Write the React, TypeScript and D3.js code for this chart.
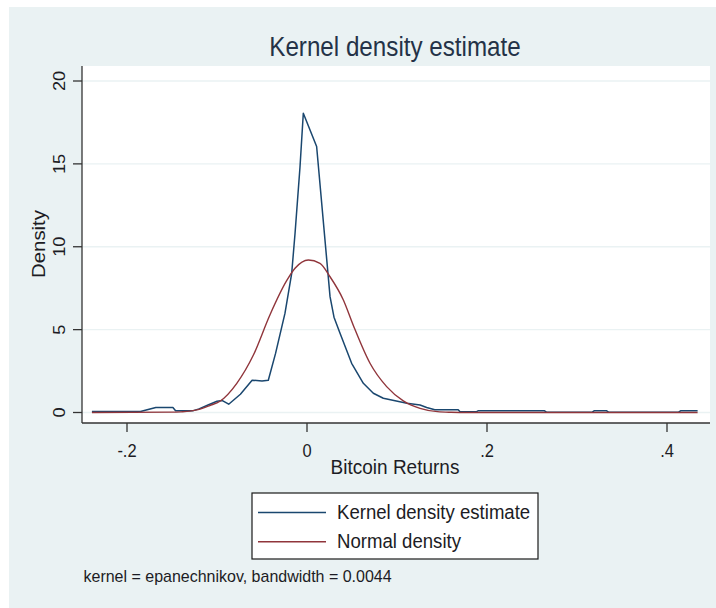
import React from "react";
import * as d3 from "d3";

// Kernel density estimate: [return, density]
const kdeReturns = [-0.239, -0.185, -0.168, -0.149, -0.146, -0.127, -0.12, -0.11, -0.1, -0.094, -0.087, -0.074, -0.061, -0.05, -0.043, -0.035, -0.0245, -0.017, -0.0133, -0.0078, -0.0041, 0.0107, 0.0256, 0.03, 0.0367, 0.0496, 0.0626, 0.0737, 0.0848, 0.111, 0.1256, 0.133, 0.142, 0.168, 0.17, 0.188, 0.19, 0.264, 0.266, 0.317, 0.319, 0.333, 0.335, 0.413, 0.415, 0.434];
const kdeDensity = [0.06, 0.06, 0.3, 0.3, 0.1, 0.1, 0.22, 0.45, 0.68, 0.72, 0.5, 1.1, 1.95, 1.9, 1.95, 3.55, 5.98, 8.4, 10.8, 14.8, 18.05, 16.05, 6.99, 5.75, 4.78, 2.97, 1.76, 1.16, 0.86, 0.56, 0.45, 0.3, 0.17, 0.17, 0.04, 0.04, 0.1, 0.1, 0.02, 0.02, 0.1, 0.1, 0.02, 0.02, 0.1, 0.1];

// Normal density
const normReturns = [-0.239, -0.15, -0.14, -0.13, -0.121, -0.108, -0.0967, -0.078, -0.0597, -0.0411, -0.0226, -0.0133, 0.0015, 0.0144, 0.0256, 0.0404, 0.0515, 0.07, 0.0885, 0.107, 0.1256, 0.145, 0.16, 0.18, 0.434];
const normDensity = [0, 0.02, 0.04, 0.08, 0.17, 0.42, 0.68, 1.76, 3.45, 5.9, 7.95, 8.7, 9.2, 9.0, 8.19, 6.79, 5.25, 2.97, 1.56, 0.7, 0.25, 0.05, 0.015, 0, 0];

const xTicks = [-0.2, 0, 0.2, 0.4];
const xTickLabels = ["-.2", "0", ".2", ".4"];
const yTicks = [0, 5, 10, 15, 20];

const title = "Kernel density estimate";
const xTitle = "Bitcoin Returns";
const yTitle = "Density";
const legendLabels = ["Kernel density estimate", "Normal density"];
const note = "kernel = epanechnikov, bandwidth = 0.0044";

const BLUE = "#1a476f";
const RED = "#90353b";
const BG = "#eaf2f3";
const FONT = "'Liberation Sans', Arial, Helvetica, sans-serif";
const TXT = "#1c1c24";

export default function App() {
  const W = 716, H = 608;
  const plot = { left: 82, right: 710, top: 66, bottom: 423 };
  const x = d3.scaleLinear().domain([-0.2, 0.4]).range([127, 667]);
  const y = d3.scaleLinear().domain([0, 20]).range([412.5, 81]);

  const line = d3.line<[number, number]>().x(d => x(d[0])).y(d => y(d[1])).curve(d3.curveLinear);
  const smooth = d3.line<[number, number]>().x(d => x(d[0])).y(d => y(d[1])).curve(d3.curveMonotoneX);

  const kde = kdeReturns.map((v, i) => [v, kdeDensity[i]] as [number, number]);
  const norm = normReturns.map((v, i) => [v, normDensity[i]] as [number, number]);

  const S = 1.1;

  return (
    <div style={{ position: "absolute", left: 0, top: 0 }}>
      <svg width={W} height={H} style={{ display: "block" }}>
        <rect x={0} y={0} width={W} height={H} fill="#ffffff" />
        <rect x={9} y={7} width={W - 9} height={H - 7} fill={BG} />
        <rect x={plot.left} y={plot.top} width={plot.right - plot.left} height={plot.bottom - plot.top} fill="#ffffff" />
        {yTicks.map(t => (
          <line key={"g" + t} x1={plot.left} x2={plot.right} y1={y(t)} y2={y(t)} stroke={BG} strokeWidth={1.3} />
        ))}
        <path d={line(kde) || ""} fill="none" stroke={BLUE} strokeWidth={1.5} strokeLinejoin="round" />
        <path d={smooth(norm) || ""} fill="none" stroke={RED} strokeWidth={1.4} strokeLinejoin="round" />
        {/* axes */}
        <line x1={plot.left} x2={plot.left} y1={plot.top} y2={plot.bottom} stroke="#333" strokeWidth={1.3} />
        <line x1={plot.left} x2={plot.right} y1={plot.bottom} y2={plot.bottom} stroke="#333" strokeWidth={1.3} />
        {yTicks.map(t => (
          <g key={"yt" + t}>
            <line x1={plot.left - 9} x2={plot.left} y1={y(t)} y2={y(t)} stroke="#333" strokeWidth={1.3} />
            <text transform={`translate(65,${y(t)}) scale(1,${S}) rotate(-90)`} textAnchor="middle" fontFamily={FONT} fontSize={16.5} fill={TXT}>{t}</text>
          </g>
        ))}
        {xTicks.map((t, i) => (
          <g key={"xt" + t}>
            <line x1={x(t)} x2={x(t)} y1={plot.bottom} y2={plot.bottom + 9} stroke="#333" strokeWidth={1.3} />
            <text transform={`translate(${x(t)},457) scale(1,${S})`} textAnchor="middle" fontFamily={FONT} fontSize={16.5} fill={TXT}>{xTickLabels[i]}</text>
          </g>
        ))}
        <text transform={`translate(395,56) scale(1,1.12)`} textAnchor="middle" fontFamily={FONT} fontSize={24.2} fill="#243247">{title}</text>
        <text transform={`translate(395,474) scale(1,${S})`} textAnchor="middle" fontFamily={FONT} fontSize={19} fill={TXT}>{xTitle}</text>
        <text transform={`translate(45,244) scale(1,1.15) rotate(-90)`} textAnchor="middle" fontFamily={FONT} fontSize={17.7} fill={TXT}>{yTitle}</text>
        {/* legend */}
        <rect x={252} y={493} width={286} height={66} fill="#ffffff" stroke="#1a1a1a" strokeWidth={1.2} />
        {legendLabels.map((lab, i) => (
          <g key={lab}>
            <line x1={258} x2={326} y1={512.5 + i * 29.2} y2={512.5 + i * 29.2} stroke={i === 0 ? BLUE : RED} strokeWidth={1.5} />
            <text transform={`translate(337,${519 + i * 29}) scale(1,1.07)`} fontFamily={FONT} fontSize={18.6} fill={TXT}>{lab}</text>
          </g>
        ))}
        <text transform={`translate(83.5,582) scale(1,1.05)`} fontFamily={FONT} fontSize={16} fill={TXT}>{note}</text>
      </svg>
    </div>
  );
}
